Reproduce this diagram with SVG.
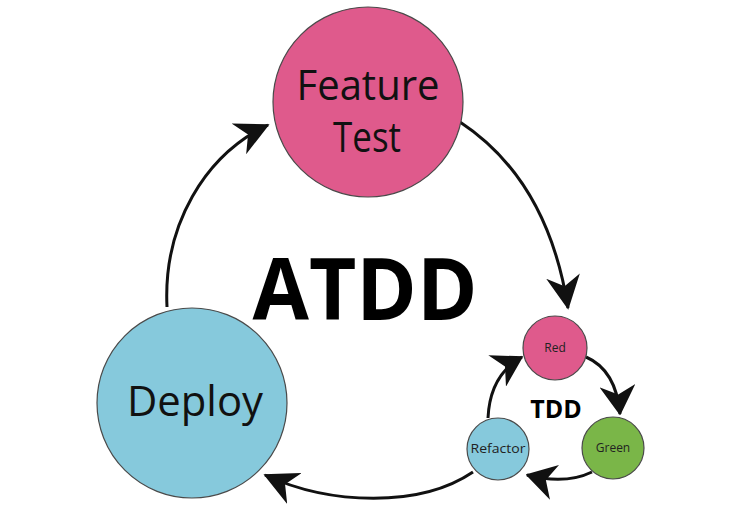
<svg xmlns="http://www.w3.org/2000/svg" width="750" height="514" viewBox="0 0 750 514">
<defs>
<marker id="ah" viewBox="0 0 10 10" refX="9.5" refY="5" markerUnits="userSpaceOnUse" markerWidth="34" markerHeight="34" orient="auto">
<path d="M0,0 L10,5 L0,10 L3,5 z" fill="#111"/>
</marker>
<marker id="ahs" viewBox="0 0 10 12" refX="9.5" refY="6" markerUnits="userSpaceOnUse" markerWidth="30" markerHeight="36" orient="auto">
<path d="M0,0 L10,6 L0,12 L3,6 z" fill="#111"/>
</marker>
</defs>
<style>
.node{stroke:#4a4a4a;stroke-width:1.2}
.pink{fill:#df5a8c}.blue{fill:#86c9dc}.green{fill:#7ab648}
.big{font-family:"Open Sans","Noto Sans",sans-serif;font-size:42px;fill:#111;text-anchor:middle}
.small{font-family:"Open Sans","Noto Sans",sans-serif;font-size:12px;fill:#222;text-anchor:middle}
.title{font-family:"Open Sans","Noto Sans",sans-serif;font-weight:bold;fill:#000;text-anchor:middle}
.conn{fill:none;stroke:#111;stroke-width:3}
</style>
<rect width="750" height="514" fill="#fff"/>
<g id="connectors">
<path class="conn" d="M460,122 Q548,180 568,308" marker-end="url(#ah)"/>
<path class="conn" d="M167,307 C163,225 205,155 268,125" marker-end="url(#ah)"/>
<path class="conn" d="M473,472 C420,508 330,505 265,475" marker-end="url(#ah)"/>
<path class="conn" d="M586,357 Q616,370 620,414" marker-end="url(#ahs)"/>
<path class="conn" d="M592,472 Q565,485 527,475" marker-end="url(#ahs)"/>
<path class="conn" d="M488,418 Q490,375 522,357" marker-end="url(#ahs)"/>
</g>
<g id="feature-test">
<circle class="node pink" cx="368" cy="102" r="95"/>
<text class="big" x="368" y="100" textLength="143" lengthAdjust="spacingAndGlyphs">Feature</text>
<text class="big" x="367" y="152" textLength="68" lengthAdjust="spacingAndGlyphs">Test</text>
</g>
<g id="deploy">
<circle class="node blue" cx="192" cy="403" r="95"/>
<text class="big" x="195" y="416" textLength="136" lengthAdjust="spacingAndGlyphs">Deploy</text>
</g>
<g id="atdd-label">
<text class="title" x="365" y="320" font-size="86" textLength="225" lengthAdjust="spacingAndGlyphs">ATDD</text>
</g>
<g id="red">
<circle class="node pink" cx="555" cy="348" r="32"/>
<text class="small" x="555" y="352">Red</text>
</g>
<g id="green">
<circle class="node green" cx="613" cy="448" r="31"/>
<text class="small" x="613" y="452">Green</text>
</g>
<g id="refactor">
<circle class="node blue" cx="498" cy="449" r="31"/>
<text class="small" x="498" y="453" textLength="55" lengthAdjust="spacingAndGlyphs">Refactor</text>
</g>
<g id="tdd-label">
<text class="title" x="556" y="418" font-size="25">TDD</text>
</g>
</svg>
